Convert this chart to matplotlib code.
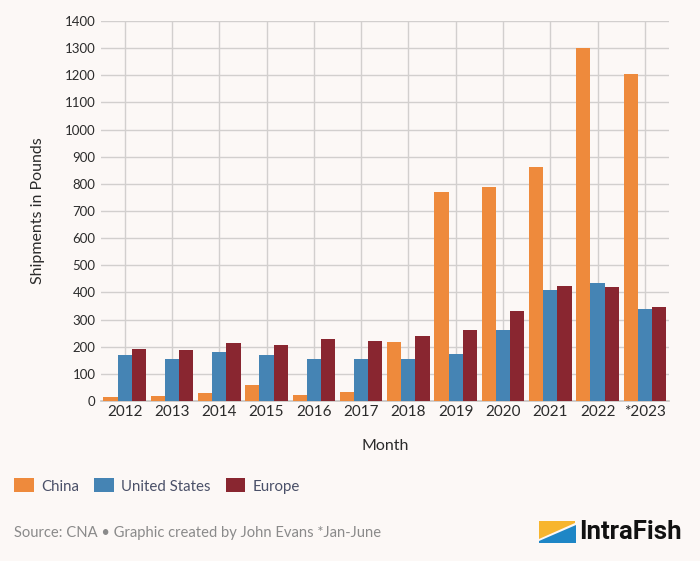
#!/usr/bin/env python3
"""Shipments in pounds by region, 2012-2023 (grouped bars)."""
import matplotlib

matplotlib.use("Agg")
import matplotlib.patches as mpatches
import matplotlib.pyplot as plt
import numpy as np

BG = "#FCF8F6"
GRID = "#D2CFCE"
TEXT = "#2B2B2B"
MUTED = "#8A8A8A"
LEGEND_TEXT = "#4A5068"

years = ["2012", "2013", "2014", "2015", "2016", "2017",
         "2018", "2019", "2020", "2021", "2022", "*2023"]
china = [15, 17, 29, 60, 23, 35, 218, 770, 790, 862, 1302, 1204]
united_states = [170, 153, 182, 171, 155, 154, 155, 173, 261, 408, 433, 339]
europe = [193, 189, 212, 207, 227, 222, 241, 260, 330, 422, 419, 348]

series_names = ["China", "United States", "Europe"]
series_colors = ["#EE8A3C", "#4584B4", "#892630"]

plt.rcParams.update({"font.family": ["Lato", "DejaVu Sans"]})

fig = plt.figure(figsize=(7.0, 5.61), dpi=100)
fig.patch.set_facecolor(BG)
ax = fig.add_axes([0.1443, 0.2852, 0.8107, 0.6774])
ax.set_facecolor(BG)

x = np.arange(len(years))
width = 0.3
handles = []
for i, (vals, color, name) in enumerate(zip([china, united_states, europe],
                                            series_colors, series_names)):
    bars = ax.bar(x + (i - 1) * width, vals, width, color=color, label=name, zorder=3)
    handles.append(bars)

ax.set_xlim(-0.5, len(years) - 0.5)
ax.set_ylim(0, 1400)
ax.set_yticks(np.arange(0, 1401, 100))
ax.set_xticks(x)
ax.set_xticklabels(years)

ax.grid(True, color=GRID, linewidth=1.0, zorder=0)
ax.set_axisbelow(True)
for side in ("top", "right", "left"):
    ax.spines[side].set_visible(False)
ax.spines["bottom"].set_color("#C8C4C2")
ax.spines["bottom"].set_linewidth(1.2)

ax.tick_params(axis="x", length=0, pad=3, labelsize=11, labelcolor=TEXT)
ax.tick_params(axis="y", length=0, pad=4, labelsize=9.5, labelcolor=TEXT)

ax.set_xlabel("Month", fontsize=11.5, color=TEXT, labelpad=14)
ax.set_ylabel("Shipments in Pounds", fontsize=11.5, color=TEXT, labelpad=14)

fig.legend(handles=handles, labels=series_names, loc="center left",
           bbox_to_anchor=(14 / 700, 1 - 486 / 561), ncol=3, frameon=False,
           borderpad=0, borderaxespad=0,
           fontsize=10.8, labelcolor=LEGEND_TEXT, handlelength=1.3,
           handleheight=1.05, handletextpad=0.5, columnspacing=1.0)

fig.text(14 / 700, 1 - 533 / 561, "Source: CNA \u2022 Graphic created by John Evans *Jan-June",
         fontsize=10.6, color=MUTED, va="center", ha="left")

# IntraFish logo mark
def px(xp, yp):
    return (xp / 700, 1 - yp / 561)

yellow = mpatches.Polygon([px(539, 521), px(575, 521), px(575, 523), px(539, 539)],
                          closed=True, facecolor="#F7B52E", edgecolor="none",
                          transform=fig.transFigure)
blue = mpatches.Polygon([px(576, 525), px(576, 543), px(539, 543), px(539, 541)],
                        closed=True, facecolor="#1E86C6", edgecolor="none",
                        transform=fig.transFigure)
fig.patches.extend([yellow, blue])
fig.text(579 / 700, 1 - 532 / 561, "IntraFish", fontsize=18.5, fontweight="bold",
         family=["Roboto", "DejaVu Sans"], color="#111111", va="center", ha="left")

fig.savefig("out.png", dpi=100, facecolor=BG)
